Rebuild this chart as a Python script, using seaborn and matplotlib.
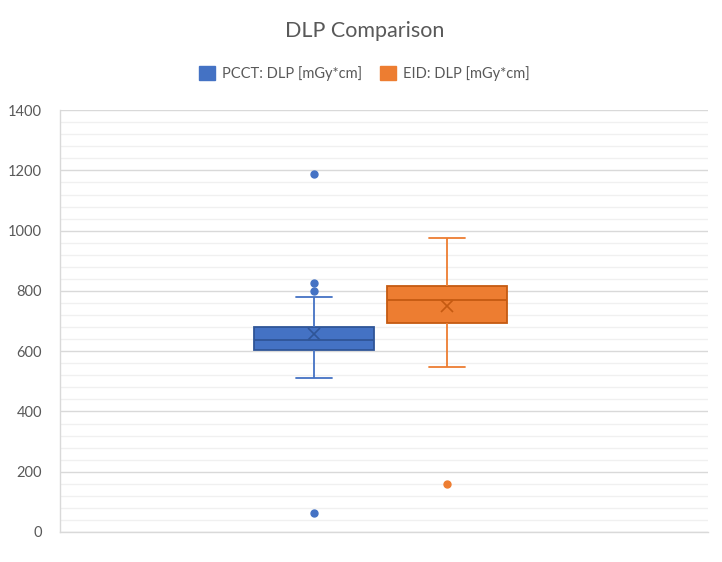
"""
Recreate the Excel style DLP comparison box plot with seaborn.
"""

import matplotlib.pyplot as plt
import matplotlib.patches as mpatches
import numpy as np
import pandas as pd
import seaborn as sns
from matplotlib.ticker import MultipleLocator

SERIES_NAMES = ["PCCT: DLP [mGy*cm]", "EID: DLP [mGy*cm]"]
SERIES_COLORS = ["#4472C4", "#ED7D31"]
DARK_COLORS = ["#2F5597", "#C55A11"]

PCCT_DLP = [
    63, 512, 580, 595, 600, 603, 605, 618, 622, 628, 633, 636, 638,
    650, 655, 668, 672, 678, 681, 730, 760, 781, 800, 828, 1188,
]
EID_DLP = [
    159, 548, 600, 640, 670, 685, 694, 710, 725, 740, 752, 762, 770,
    780, 790, 798, 805, 811, 817, 850, 880, 905, 932, 950, 977,
]

Y_TICKS = [0, 200, 400, 600, 800, 1000, 1200, 1400]

TEXT_COLOR = "#595959"
CAP_WIDTH = 0.27


def shrink_caps(ax) -> None:
    # seaborn draws caps half as wide as the box; Excel's are narrower
    for line in ax.lines:
        xs = np.asarray(line.get_xdata(), dtype=float)
        ys = np.asarray(line.get_ydata(), dtype=float)
        if len(xs) != 2 or ys[0] != ys[1]:
            continue
        span = abs(xs[1] - xs[0])
        if 0.3 < span < 0.6:
            mid = xs.mean()
            line.set_xdata([mid - CAP_WIDTH / 2, mid + CAP_WIDTH / 2])


def create_dlp_boxplot() -> None:
    sns.set_theme(style="white")
    plt.rcParams["font.family"] = ["Lato", "DejaVu Sans"]

    frames = [
        pd.DataFrame({"series": name, "dlp": values})
        for name, values in zip(SERIES_NAMES, [PCCT_DLP, EID_DLP])
    ]

    fig = plt.figure(figsize=(7.22, 5.62), dpi=100)
    ax = fig.add_axes([0.083, 0.0534, 0.898, 0.7506])

    for frame, color, dark in zip(frames, SERIES_COLORS, DARK_COLORS):
        sns.boxplot(
            data=frame,
            x="series",
            y="dlp",
            order=SERIES_NAMES,
            color=color,
            linecolor=color,
            width=0.9,
            linewidth=1.3,
            saturation=1,
            showmeans=True,
            boxprops={"edgecolor": dark},
            medianprops={"color": dark, "linewidth": 1.3},
            meanprops={
                "marker": "x",
                "markeredgecolor": dark,
                "markersize": 9,
                "markeredgewidth": 1.2,
            },
            flierprops={
                "marker": "o",
                "markerfacecolor": color,
                "markeredgecolor": color,
                "markersize": 5,
            },
            ax=ax,
        )

    shrink_caps(ax)

    ax.set_xlim(-1.91, 2.96)
    ax.set_ylim(0, 1400)
    ax.set_yticks(Y_TICKS)
    ax.yaxis.set_minor_locator(MultipleLocator(40))
    ax.set_axisbelow(True)
    ax.grid(axis="y", which="major", color="#D9D9D9", linewidth=1)
    ax.grid(axis="y", which="minor", color="#F0F0F0", linewidth=1)

    ax.set_xticks([])
    ax.set_xlabel("")
    ax.set_ylabel("")
    ax.tick_params(axis="y", which="both", length=0, pad=13,
                   labelsize=10.5, labelcolor=TEXT_COLOR)

    for side in ["top", "right"]:
        ax.spines[side].set_visible(False)
    for side in ["left", "bottom"]:
        ax.spines[side].set_color("#D9D9D9")
        ax.spines[side].set_linewidth(1)

    fig.text(0.505, 0.945, "DLP Comparison", ha="center", va="center",
             fontsize=15.5, color=TEXT_COLOR)

    handles = [
        mpatches.Patch(facecolor=c, edgecolor=c, label=n)
        for n, c in zip(SERIES_NAMES, SERIES_COLORS)
    ]
    fig.legend(
        handles=handles,
        loc="center",
        bbox_to_anchor=(0.505, 0.870),
        ncol=2,
        frameon=False,
        fontsize=10.5,
        labelcolor=TEXT_COLOR,
        handlelength=1.1,
        handleheight=1.1,
        handletextpad=0.5,
        columnspacing=1.2,
    )

    fig.savefig("out.png", dpi=100, facecolor="white")


if __name__ == "__main__":
    create_dlp_boxplot()
